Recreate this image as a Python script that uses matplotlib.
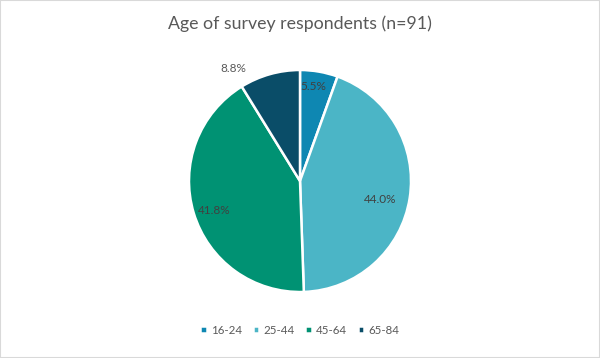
import matplotlib.pyplot as plt
import numpy as np
from matplotlib.patches import Rectangle

# respondents per age group (n=91)
groups = ["16-24", "25-44", "45-64", "65-84"]
counts = [5, 40, 38, 8]
colors = ["#0e87b2", "#4bb5c6", "#009273", "#0a4d68"]

# label placement (fraction of radius, angle nudge in degrees)
lab_dist = [0.86, 0.74, 0.82, 1.18]
lab_nudge = [2, -4, 2, 15]
lab_color = ["#404040", "#404040", "#404040", "#595959"]

plt.rcParams["font.family"] = ["Lato", "DejaVu Sans"]

fig = plt.figure(figsize=(6, 3.58), dpi=100)
fig.patches.append(Rectangle((0, 0), 1, 1, transform=fig.transFigure,
                             fill=False, edgecolor="#d9d9d9", linewidth=1.5))

# pie: centre (300, 181) px, radius 111 px
ax = fig.add_axes([189 / 600, 66 / 358, 222 / 600, 222 / 358])
wedges, _ = ax.pie(counts, colors=colors, startangle=90, counterclock=False,
                   wedgeprops=dict(edgecolor="white", linewidth=1.8))
ax.set_xlim(-1, 1)
ax.set_ylim(-1, 1)
ax.set_aspect("equal")

total = sum(counts)
for w, c, d, n, tc in zip(wedges, counts, lab_dist, lab_nudge, lab_color):
    ang = np.deg2rad((w.theta1 + w.theta2) / 2 + n)
    ax.text(d * np.cos(ang), d * np.sin(ang), "%.1f%%" % (100 * c / total),
            ha="center", va="center", fontsize=8.5, color=tc)

fig.text(0.5, 0.935, "Age of survey respondents (n=91)", ha="center",
         va="center", fontsize=12.8, color="#595959")

fig.legend(wedges, groups, loc="center", bbox_to_anchor=(0.5, 0.077),
           ncol=4, frameon=False, fontsize=8.3, labelcolor="#595959",
           handlelength=0.55, handleheight=0.55, handletextpad=0.4,
           columnspacing=0.9)

fig.savefig("out.png", dpi=100)
